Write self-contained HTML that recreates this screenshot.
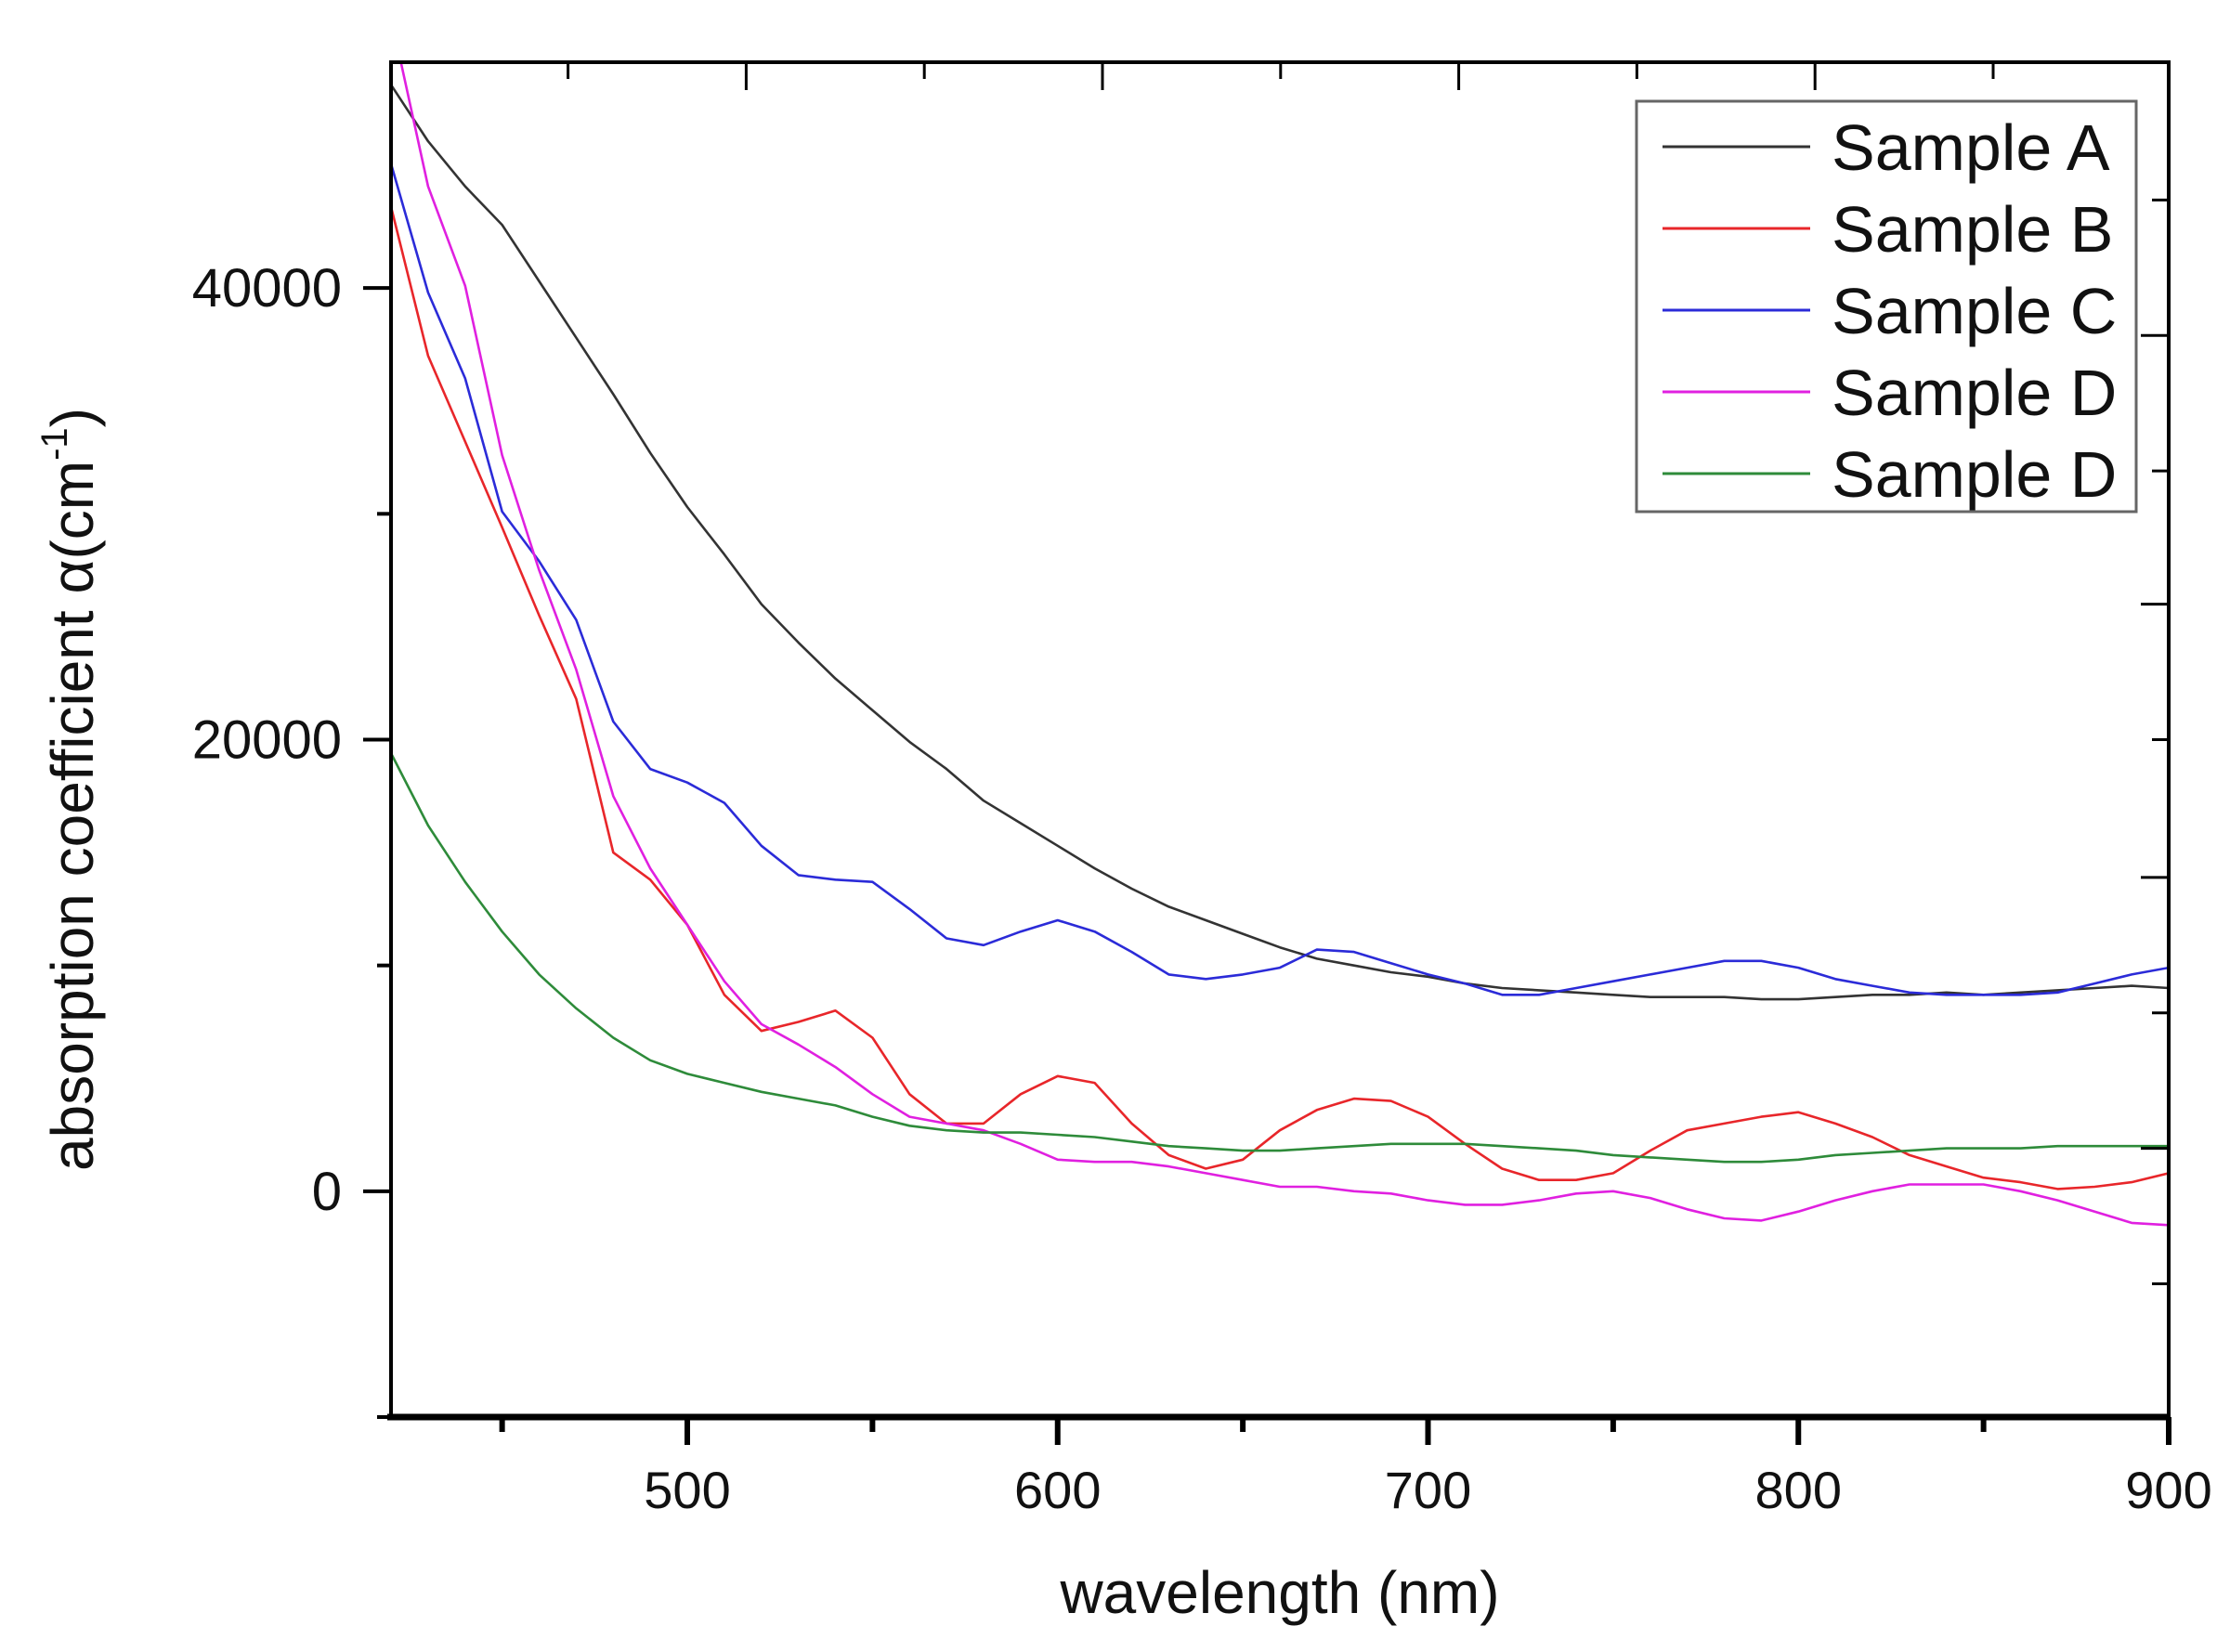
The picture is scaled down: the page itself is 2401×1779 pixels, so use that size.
<!DOCTYPE html>
<html><head><meta charset="utf-8">
<style>
html,body{margin:0;padding:0;background:#fff;}
svg{display:block;font-family:"Liberation Sans",Arial,sans-serif;}
</style></head>
<body>
<svg id="chart" width="2401" height="1779" viewBox="0 0 2401 1779" xmlns="http://www.w3.org/2000/svg">
<defs><clipPath id="plotclip"><rect x="421" y="67" width="1914" height="1459"/></clipPath></defs>
<g id="series" clip-path="url(#plotclip)"></g>
<g id="axes"></g>
<g id="legend"></g>
<text x="1378" y="1737" font-size="64" text-anchor="middle" fill="#111">wavelength (nm)</text>
<text transform="translate(100,850) rotate(-90)" font-size="64" text-anchor="middle" fill="#111">absorption coefficient α(cm<tspan dy="-28" font-size="40">-1</tspan><tspan dy="28">)</tspan></text>
</svg>
<script>
const wavelengths=[420,430,440,450,460,470,480,490,500,510,520,530,540,550,560,570,580,590,600,610,620,630,640,650,660,670,680,690,700,710,720,730,740,750,760,770,780,790,800,810,820,830,840,850,860,870,880,890,900];
const sampleA=[49000,46500,44500,42800,40300,37800,35300,32700,30300,28200,26000,24300,22700,21300,19900,18700,17300,16300,15300,14300,13400,12600,12000,11400,10800,10300,10000,9700,9500,9200,9000,8900,8800,8700,8600,8600,8600,8500,8500,8600,8700,8700,8800,8700,8800,8900,9000,9100,9000];
const sampleB=[43600,37000,33200,29400,25500,21800,15000,13800,11800,8700,7100,7500,8000,6800,4300,3000,3000,4300,5100,4800,3000,1600,1000,1400,2700,3600,4100,4000,3300,2100,1000,500,500,800,1800,2700,3000,3300,3500,3000,2400,1600,1100,600,400,100,200,400,800];
const sampleC=[45500,39800,36000,30100,27900,25300,20800,18700,18100,17200,15300,14000,13800,13700,12500,11200,10900,11500,12000,11500,10600,9600,9400,9600,9900,10700,10600,10100,9600,9200,8700,8700,9000,9300,9600,9900,10200,10200,9900,9400,9100,8800,8700,8700,8700,8800,9200,9600,9900];
const sampleD=[52000,44500,40100,32600,27500,23100,17500,14300,11800,9300,7400,6500,5500,4300,3300,3000,2700,2100,1400,1300,1300,1100,800,500,200,200,0,-100,-400,-600,-600,-400,-100,0,-300,-800,-1200,-1300,-900,-400,0,300,300,300,0,-400,-900,-1400,-1500];
const sampleE=[19400,16200,13700,11500,9600,8100,6800,5800,5200,4800,4400,4100,3800,3300,2900,2700,2600,2600,2500,2400,2200,2000,1900,1800,1800,1900,2000,2100,2100,2100,2000,1900,1800,1600,1500,1400,1300,1300,1400,1600,1700,1800,1900,1900,1900,2000,2000,2000,2000];
const seriesNames=["Sample A","Sample B","Sample C","Sample D","Sample D"];
const seriesColors=["#333333","#e8262a","#2b2bd8","#e020e0","#2e8b3a"];
const xTickValues=[500,600,700,800,900];
const xMinorValues=[450,550,650,750,850];
const yTickValues=[0,20000,40000];
const yMinorValues=[-10000,10000,30000];
const topTickValues=[467.8,515.9,564.0,612.1,660.2,708.3,756.4,804.5,852.6,900];
const rightTickValues=[43900,37900,31900,26000,20000,13900,7900,1900,-4100];

const L=421,R=2335,T=67,B=1526,XMIN=420,XMAX=900,YMIN=-10000,YMAX=50000;
function xs(v){return L+(v-XMIN)/(XMAX-XMIN)*(R-L);}
function ys(v){return B-(v-YMIN)/(YMAX-YMIN)*(B-T);}
const NS="http://www.w3.org/2000/svg";
function mk(tag,attrs,parent){const e=document.createElementNS(NS,tag);for(const k in attrs)e.setAttribute(k,attrs[k]);parent.appendChild(e);return e;}

const sg=document.getElementById('series');
const allSeries=[sampleA,sampleB,sampleC,sampleD,sampleE];
const seriesKeys=["sample-a-line","sample-b-line","sample-c-line","sample-d-line","sample-d2-line"];
allSeries.forEach((arr,i)=>{
  const d=arr.map((v,j)=>(j?'L':'M')+xs(wavelengths[j]).toFixed(1)+' '+ys(v).toFixed(1)).join(' ');
  const p=mk('path',{d:d,fill:'none',stroke:seriesColors[i],'stroke-width':2.6,'stroke-linejoin':'round'},sg);
  
  
});

const ag=document.getElementById('axes');
const frame=mk('rect',{x:L,y:T,width:R-L,height:B-T,fill:'none',stroke:'#000','stroke-width':4},ag);


const bx=mk('line',{x1:L-4,y1:B,x2:R+2,y2:B,stroke:'#000','stroke-width':7},ag);


xTickValues.forEach(v=>{
  const t=mk('line',{x1:xs(v),y1:B,x2:xs(v),y2:B+30,stroke:'#000','stroke-width':6},ag);
  
  
  const lb=mk('text',{x:xs(v),y:B+98,'font-size':56,'text-anchor':'middle',fill:'#111'},ag);
  lb.textContent=String(v);
  
  
});
xMinorValues.forEach(v=>{
  const t=mk('line',{x1:xs(v),y1:B,x2:xs(v),y2:B+16,stroke:'#000','stroke-width':6},ag);
  
  
});
yTickValues.forEach(v=>{
  const t=mk('line',{x1:L-30,y1:ys(v),x2:L,y2:ys(v),stroke:'#000','stroke-width':4},ag);
  
  
  const lb=mk('text',{x:368,y:ys(v)+20,'font-size':58,'text-anchor':'end',fill:'#111'},ag);
  lb.textContent=String(v);
  
  
});
yMinorValues.forEach(v=>{
  const t=mk('line',{x1:L-15,y1:ys(v),x2:L,y2:ys(v),stroke:'#000','stroke-width':4},ag);
  
  
});
topTickValues.forEach((v,i)=>{
  const len=(i%2===1)?30:18;
  const t=mk('line',{x1:xs(v),y1:T,x2:xs(v),y2:T+len,stroke:'#000','stroke-width':3},ag);
  
  
});
rightTickValues.forEach((v,i)=>{
  const len=(i%2===1)?30:18;
  const t=mk('line',{x1:R-len,y1:ys(v),x2:R,y2:ys(v),stroke:'#000','stroke-width':3},ag);
  
  
});

const lg=document.getElementById('legend');
const box=mk('rect',{x:1762,y:109,width:538,height:442,fill:'#fff',stroke:'#666','stroke-width':3},lg);


seriesNames.forEach((n,i)=>{
  const y=158+i*88;
  const ln=mk('line',{x1:1790,y1:y,x2:1949,y2:y,stroke:seriesColors[i],'stroke-width':3},lg);
  
  
  const tx=mk('text',{x:1972,y:y+25,'font-size':70,fill:'#111'},lg);
  tx.textContent=n;
  
  
});
</script>
</body></html>
